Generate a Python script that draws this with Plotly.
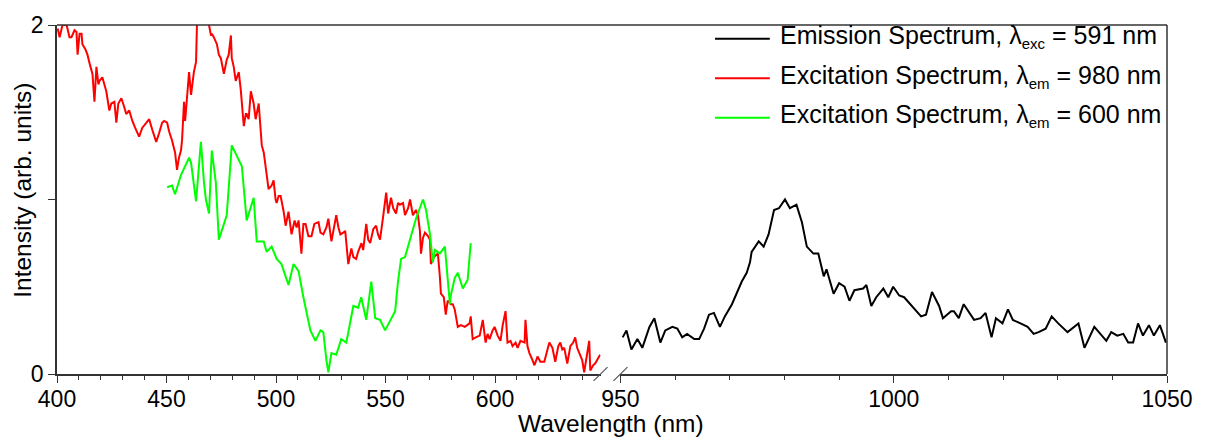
import plotly.graph_objects as go

# Excitation spectrum monitored at 980 nm (left wavelength segment)
red_nm = [400.3, 401.2, 402.5, 404.4, 405.7, 406.6, 408.0, 408.9, 409.4, 410.3, 411.2, 411.6,
          413.0, 413.9, 415.3, 416.2, 417.1, 418.0, 418.9, 419.4, 420.7, 421.6, 422.5, 423.9,
          424.8, 426.2, 427.1, 428.0, 429.4, 430.7, 431.6, 433.0, 434.4, 435.7, 437.5, 438.9,
          440.7, 442.1, 443.5, 444.4, 445.3, 446.6, 448.0, 448.9, 450.3, 451.2, 452.5, 453.9,
          454.8, 455.7, 456.6, 457.1, 458.0, 458.5, 459.4, 460.3, 461.2, 462.5, 463.5, 463.9,
          465.0, 466.5, 468.0, 469.4, 470.3, 470.7, 471.6, 473.0, 473.9, 474.8, 476.2, 477.1,
          477.5, 478.4, 479.4, 479.8, 480.7, 481.6, 483.0, 483.9, 485.3, 486.2, 486.6, 487.5,
          488.5, 489.8, 490.7, 492.1, 493.0, 493.5, 494.4, 495.3, 496.6, 498.0, 498.9, 499.8,
          500.3, 501.2, 502.1, 503.5, 504.4, 505.7, 507.1, 508.5, 509.4, 510.3, 511.6, 512.5,
          513.5, 514.8, 516.2, 517.5, 519.4, 520.3, 521.6, 523.0, 523.9, 525.3, 526.6, 527.5,
          528.5, 529.4, 530.7, 531.6, 533.0, 534.4, 535.3, 536.6, 537.5, 539.0, 539.8, 541.2,
          542.1, 543.0, 544.4, 545.7, 546.6, 547.5, 549.0, 549.8, 550.3, 551.2, 552.5, 553.5,
          554.8, 555.7, 556.6, 558.0, 558.9, 560.3, 561.2, 562.5, 563.9, 564.8, 565.7, 566.2,
          567.1, 568.0, 569.4, 570.3, 570.7, 572.1, 573.9, 574.8, 575.3, 576.6, 577.5, 578.4,
          579.8, 580.7, 581.6, 583.0, 584.4, 586.2, 587.5, 588.4, 588.9, 589.8, 591.2, 593.0,
          594.4, 595.7, 596.6, 597.5, 598.9, 599.8, 601.2, 602.5, 603.5, 604.8, 605.7, 607.1,
          608.0, 609.4, 610.3, 611.6, 613.5, 613.9, 614.8, 615.7, 617.1, 618.0, 619.4, 620.7,
          622.5, 623.9, 624.8, 626.2, 627.5, 628.9, 629.8, 630.7, 631.6, 633.0, 634.4, 635.7,
          636.6, 637.5, 638.5, 639.8, 640.7, 642.1, 643.0, 643.5, 644.8, 645.7, 647.1, 648.0]
red_int = [1.98, 1.93, 2.00, 2.00, 1.93, 1.93, 1.97, 1.96, 1.83, 1.95, 1.95, 1.89,
           1.86, 1.83, 1.76, 1.72, 1.56, 1.76, 1.66, 1.68, 1.70, 1.66, 1.62, 1.51,
           1.55, 1.56, 1.44, 1.55, 1.58, 1.53, 1.49, 1.51, 1.45, 1.41, 1.36, 1.41,
           1.44, 1.46, 1.40, 1.37, 1.33, 1.38, 1.44, 1.45, 1.44, 1.39, 1.34, 1.27,
           1.17, 1.24, 1.28, 1.34, 1.56, 1.45, 1.59, 1.73, 1.60, 1.73, 1.79, 2.00,
           2.08, 2.12, 2.06, 2.00, 1.94, 1.95, 1.93, 1.89, 1.83, 1.81, 1.72, 1.79,
           1.80, 1.83, 1.94, 1.81, 1.76, 1.68, 1.73, 1.63, 1.42, 1.49, 1.49, 1.46,
           1.62, 1.55, 1.46, 1.55, 1.41, 1.31, 1.27, 1.17, 1.06, 1.08, 1.11, 1.00,
           0.98, 1.02, 1.02, 0.93, 0.85, 0.93, 0.80, 0.88, 0.84, 0.88, 0.69, 0.86,
           0.86, 0.79, 0.79, 0.86, 0.87, 0.81, 0.80, 0.84, 0.89, 0.76, 0.84, 0.91,
           0.84, 0.80, 0.81, 0.82, 0.63, 0.72, 0.67, 0.66, 0.70, 0.75, 0.71, 0.86,
           0.77, 0.75, 0.83, 0.85, 0.80, 0.77, 0.91, 1.00, 1.04, 0.92, 1.01, 0.95,
           0.92, 0.98, 0.97, 0.98, 0.91, 0.95, 1.00, 0.91, 0.94, 0.91, 0.82, 0.69,
           0.78, 0.81, 0.79, 0.77, 0.63, 0.67, 0.69, 0.56, 0.46, 0.44, 0.34, 0.42,
           0.40, 0.40, 0.37, 0.27, 0.28, 0.27, 0.28, 0.29, 0.33, 0.20, 0.21, 0.22,
           0.31, 0.18, 0.23, 0.20, 0.25, 0.27, 0.22, 0.19, 0.28, 0.36, 0.18, 0.19,
           0.16, 0.18, 0.15, 0.19, 0.18, 0.31, 0.16, 0.12, 0.08, 0.05, 0.10, 0.07,
           0.07, 0.14, 0.18, 0.15, 0.07, 0.16, 0.18, 0.14, 0.15, 0.06, 0.16, 0.18,
           0.21, 0.15, 0.12, 0.08, 0.01, 0.11, 0.19, 0.02, 0.05, 0.06, 0.09, 0.11]

# Excitation spectrum monitored at 600 nm
green_nm = [450.3, 452.5, 453.9, 456.6, 460.3, 461.2, 463.5, 465.7, 467.1, 468.0, 469.4, 470.7,
            472.5, 473.9, 477.5, 479.8, 482.1, 484.4, 486.6, 489.8, 491.2, 494.4, 495.7, 498.0,
            500.3, 502.5, 505.7, 508.0, 510.3, 512.5, 515.7, 518.0, 520.3, 521.6, 523.0, 523.9,
            525.3, 527.5, 529.8, 532.1, 535.3, 537.5, 538.9, 541.2, 543.5, 545.3, 547.5, 549.8,
            554.4, 555.7, 557.1, 558.9, 561.6, 563.9, 567.1, 568.5, 570.3, 571.6, 572.6, 574.8,
            577.1, 578.5, 579.4, 579.8, 581.6, 583.0, 585.3, 587.5, 588.9]
green_int = [1.07, 1.08, 1.03, 1.14, 1.24, 1.21, 0.99, 1.33, 1.10, 1.00, 0.92, 1.28,
             1.10, 0.77, 0.91, 1.31, 1.25, 1.19, 0.88, 1.01, 0.76, 0.76, 0.70, 0.73,
             0.66, 0.63, 0.51, 0.63, 0.59, 0.44, 0.25, 0.19, 0.25, 0.24, 0.08, 0.01,
             0.12, 0.11, 0.20, 0.18, 0.39, 0.38, 0.44, 0.31, 0.53, 0.32, 0.31, 0.25,
             0.36, 0.53, 0.66, 0.67, 0.79, 0.89, 1.00, 0.94, 0.80, 0.64, 0.71, 0.69,
             0.73, 0.55, 0.40, 0.45, 0.55, 0.58, 0.49, 0.54, 0.75]

# Emission spectrum under 591 nm excitation (right wavelength segment)
black_nm = [950.4, 951.1, 952.0, 953.1, 954.0, 955.3, 956.2, 957.3, 958.2, 959.5, 960.4, 961.3,
            962.2, 963.5, 964.4, 965.3, 966.2, 967.1, 968.2, 969.1, 970.4, 971.3, 972.2, 973.1,
            973.7, 974.0, 975.3, 976.2, 977.1, 978.1, 979.0, 980.1, 981.0, 982.2, 983.2, 984.1,
            985.3, 986.2, 987.2, 987.7, 989.0, 990.0, 991.0, 991.9, 992.8, 994.4, 995.0, 995.9,
            996.8, 998.1, 999.0, 999.9, 1001.0, 1001.9, 1003.6, 1005.0, 1005.9, 1007.0, 1008.3,
            1009.0, 1010.5, 1011.0, 1011.9, 1012.8, 1014.7, 1015.9, 1016.8, 1017.9, 1018.7,
            1019.9, 1020.9, 1021.8, 1023.2, 1024.5, 1025.6, 1026.5, 1027.8, 1028.9, 1030.1,
            1031.8, 1033.8, 1034.9, 1036.7, 1038.9, 1039.8, 1040.9, 1042.0, 1042.9, 1043.8,
            1044.7, 1045.6, 1046.7, 1047.6, 1048.7, 1049.8]
black_int = [0.21, 0.25, 0.14, 0.20, 0.15, 0.27, 0.32, 0.18, 0.25, 0.27, 0.26, 0.21,
             0.23, 0.20, 0.20, 0.26, 0.34, 0.35, 0.27, 0.33, 0.40, 0.47, 0.53, 0.58,
             0.64, 0.70, 0.76, 0.73, 0.80, 0.94, 0.95, 1.00, 0.95, 0.97, 0.87, 0.73,
             0.69, 0.69, 0.56, 0.60, 0.46, 0.52, 0.50, 0.42, 0.48, 0.49, 0.51, 0.39,
             0.44, 0.49, 0.44, 0.50, 0.45, 0.44, 0.38, 0.33, 0.34, 0.47, 0.39,
             0.32, 0.36, 0.36, 0.32, 0.40, 0.31, 0.32, 0.35, 0.21, 0.32,
             0.29, 0.37, 0.31, 0.29, 0.27, 0.23, 0.24, 0.26, 0.33, 0.29,
             0.24, 0.29, 0.15, 0.27, 0.19, 0.24, 0.22, 0.23, 0.18, 0.18,
             0.29, 0.22, 0.28, 0.22, 0.28, 0.18]

left_ticks = [400, 450, 500, 550, 600]
right_ticks = [950, 1000, 1050]
y_ticks = [0, 1, 2]
y_ticktext = ["0", "", "2"]

SUB = '<sub><span style="font-size:15px">{}</span></sub>'
legend_labels = [
    "Emission Spectrum, λ" + SUB.format("exc") + " = 591 nm",
    "Excitation Spectrum, λ" + SUB.format("em") + " = 980 nm",
    "Excitation Spectrum, λ" + SUB.format("em") + " = 600 nm",
]
legend_colors = ["#000000", "#ff0000", "#00ff00"]

FONT = "Liberation Sans, Arial, sans-serif"
AXIS_COLOR = "#333333"

# plot area in pixels: x 57..1172, y 20..374
W, H = 1205, 439
ML, MR, MT, MB = 57, 33, 20, 65
PW = W - ML - MR
PH = H - MT - MB


def px_x(px):
    return (px - ML) / PW


def px_y(py):
    return (H - MB - py) / PH


fig = go.Figure()
fig.add_trace(go.Scatter(x=red_nm, y=red_int, mode="lines", xaxis="x", yaxis="y",
                         line=dict(color=legend_colors[1], width=2), showlegend=False))
fig.add_trace(go.Scatter(x=green_nm, y=green_int, mode="lines", xaxis="x", yaxis="y",
                         line=dict(color=legend_colors[2], width=2), showlegend=False))
fig.add_trace(go.Scatter(x=black_nm, y=black_int, mode="lines", xaxis="x2", yaxis="y",
                         line=dict(color=legend_colors[0], width=2), showlegend=False))

axis_common = dict(
    showline=True, linecolor=AXIS_COLOR, linewidth=1.5,
    ticks="outside", ticklen=7, tickwidth=1.2, tickcolor=AXIS_COLOR,
    showgrid=False, zeroline=False,
    tickfont=dict(family=FONT, size=23, color="#000000"),
)

fig.update_layout(
    width=W, height=H,
    margin=dict(l=ML, r=MR, t=MT, b=MB),
    paper_bgcolor="white", plot_bgcolor="white",
    showlegend=False,
    xaxis=dict(
        domain=[0, px_x(603)], range=[400, 400 + (603 - ML) / 2.2],
        tickvals=left_ticks, anchor="y", ticklabelstandoff=-3,
        minor=dict(dtick=10, tick0=400, ticks="outside", ticklen=4, tickcolor=AXIS_COLOR, tickwidth=1.2),
        **axis_common,
    ),
    xaxis2=dict(
        domain=[px_x(623), 1], range=[950, 1050],
        tickvals=right_ticks, anchor="y", ticklabelstandoff=-3,
        minor=dict(dtick=10, tick0=950, ticks="outside", ticklen=4, tickcolor=AXIS_COLOR, tickwidth=1.2),
        **axis_common,
    ),
    yaxis=dict(
        domain=[0, 1], range=[0, 2],
        tickvals=y_ticks, ticktext=y_ticktext,
        **axis_common,
    ),
)

shapes = [
    # top and right frame
    dict(type="line", xref="paper", yref="paper", x0=0, x1=1, y0=1, y1=1,
         line=dict(color=AXIS_COLOR, width=1.5)),
    dict(type="line", xref="paper", yref="paper", x0=1, x1=1, y0=0, y1=1,
         line=dict(color=AXIS_COLOR, width=1.5)),
    # axis break marks
    dict(type="line", xref="paper", yref="paper", x0=px_x(596), x1=px_x(610),
         y0=px_y(381), y1=px_y(367), line=dict(color="#555555", width=1.2)),
    dict(type="line", xref="paper", yref="paper", x0=px_x(616), x1=px_x(630),
         y0=px_y(381), y1=px_y(367), line=dict(color="#555555", width=1.2)),
]

annotations = [
    dict(text="Wavelength (nm)", xref="paper", yref="paper", x=px_x(613), y=px_y(424),
         xanchor="center", yanchor="middle", showarrow=False,
         font=dict(family=FONT, size=24.5, color="#000000")),
    dict(text="Intensity (arb. units)", xref="paper", yref="paper", x=px_x(22), y=px_y(188),
         xanchor="center", yanchor="middle", textangle=-90, showarrow=False,
         font=dict(family=FONT, size=24.5, color="#000000")),
]

# legend block: sample line plus label per series
legend_rows = [34, 74, 114]
for label, color, row in zip(legend_labels, legend_colors, legend_rows):
    shapes.append(dict(type="line", xref="paper", yref="paper",
                       x0=px_x(718), x1=px_x(773), y0=px_y(row), y1=px_y(row),
                       line=dict(color=color, width=2)))
    annotations.append(dict(text=label, xref="paper", yref="paper",
                            x=px_x(781), y=px_y(row - 2), xanchor="left", yanchor="middle",
                            showarrow=False,
                            font=dict(family=FONT, size=25, color="#000000")))

fig.update_layout(shapes=shapes, annotations=annotations)

fig.write_html("out.html")
